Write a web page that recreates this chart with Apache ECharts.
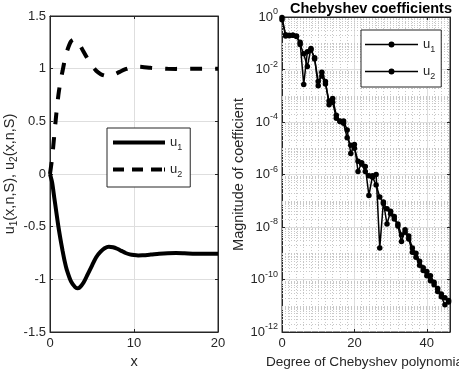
<!DOCTYPE html>
<html><head><meta charset="utf-8">
<script src="https://cdn.jsdelivr.net/npm/echarts@6/dist/echarts.min.js"></script>
<style>html,body{margin:0;padding:0;background:#fff}#c{width:459px;height:372px}</style>
</head><body><div id="c"></div>
<script>
// ---- left panel: solution curves ----
const xSol = [0,0.25,0.5,0.75,1,1.25,1.5,1.75,2,2.5,3,3.25,3.5,4,4.5,5,5.5,6,6.5,7,7.5,8,8.5,9,9.5,10,10.5,11,12,13,14,15,16,17,18,19,20];
const u1Sol = [0,-0.08,-0.22,-0.36,-0.50,-0.62,-0.73,-0.83,-0.91,-1.02,-1.075,-1.085,-1.08,-1.03,-0.95,-0.87,-0.79,-0.74,-0.705,-0.69,-0.695,-0.71,-0.73,-0.75,-0.763,-0.77,-0.773,-0.772,-0.765,-0.757,-0.752,-0.751,-0.753,-0.756,-0.757,-0.757,-0.757];
const u2Sol = [0,0.15,0.36,0.57,0.75,0.88,0.98,1.08,1.16,1.26,1.28,1.27,1.235,1.16,1.09,1.03,0.98,0.95,0.935,0.932,0.94,0.958,0.978,0.995,1.008,1.016,1.018,1.016,1.008,1.002,0.999,0.998,0.999,1.0,1.0,1.0,1.0];
const leftXTicks = [0,10,20];
const leftYTicks = [-1.5,-1,-0.5,0,0.5,1,1.5];

// ---- right panel: Chebyshev coefficient magnitudes ----
const degree = [0,1,2,3,4,5,6,7,8,9,10,11,12,13,14,15,16,17,18,19,20,21,22,23,24,25,26,27,28,29,30,31,32,33,34,35,36,37,38,39,40,41,42,43,44,45,46];
const coefU1 = [0.79,0.19,0.195,0.20,0.18,0.11,2.7e-3,4.7e-2,5.6e-2,2.8e-2,2.4e-3,7.9e-3,3.5e-3,4.5e-4,7.9e-4,1.8e-4,1.1e-4,1.1e-4,5.0e-5,6.3e-6,1.4e-5,1.3e-6,2.8e-6,2.0e-6,1.6e-7,8.9e-7,1.0e-6,1.6e-9,8.9e-8,1.3e-8,4.0e-8,2.5e-8,1.1e-8,2.8e-9,7.9e-9,3.5e-9,1.1e-9,7.1e-10,3.5e-10,2.2e-10,1.4e-10,8.9e-11,6.3e-11,4.5e-11,2.2e-11,1.1e-11,1.6e-11];
const coefU2 = [0.96,0.21,0.20,0.20,0.19,8.9e-2,4.0e-2,1.3e-2,6.3e-2,2.5e-2,3.5e-3,5.6e-3,2.8e-3,6.3e-4,5.6e-4,1.4e-4,1.05e-4,8.9e-5,2.5e-5,1.3e-5,1.0e-5,3.2e-6,2.5e-6,1.3e-6,8.9e-7,7.9e-7,4.0e-7,1.4e-7,7.9e-8,5.0e-8,3.2e-8,2.0e-8,1.3e-8,5.0e-9,6.3e-9,4.5e-9,1.6e-9,1.0e-9,5.0e-10,2.8e-10,2.0e-10,1.4e-10,7.9e-11,3.5e-11,2.8e-11,2.0e-11,1.4e-11];
const rightXTicks = [0,20,40];
const rightYExps = [-12,-10,-8,-6,-4,-2,0];
const rightXMax = 46.4;

const FONT = 'Liberation Sans, Arial, Helvetica, sans-serif';
const AX = '#262626';
const MAJ = '#dedede';
const MIN = '#c8c8c8';
const TICK_FS = 13;
const NAME_FS = 14.5;

function mkAxis(o) {
  const base = {
    type: 'value',
    axisLine: {show: true, onZero: false, lineStyle: {color: AX, width: 1}},
    axisTick: {show: true, inside: true, length: 3, lineStyle: {color: AX}},
    axisLabel: {color: AX, fontSize: TICK_FS, fontFamily: FONT},
    splitLine: {show: false},
    nameTextStyle: {color: AX, fontSize: NAME_FS, fontFamily: FONT}
  };
  return Object.assign(base, o);
}

// minor log grid (decoration only)
const minorLines = [];
for (let p = -12; p <= -1; p++) {
  for (let m = 1; m <= 9; m++) {
    if (m === 1 && p % 2 === 0) continue;
    minorLines.push({yAxis: p + Math.log10(m)});
  }
}
for (let v = 2; v < rightXMax; v += 2) {
  if (v % 20 !== 0) minorLines.push({xAxis: v});
}

const nameRich = {
  t: {fontSize: NAME_FS, fontFamily: FONT, color: AX},
  s: {fontSize: 10, fontFamily: FONT, color: AX, padding: [10, 0, 0, 0]}
};
const legRich = {
  t: {fontSize: 13, fontFamily: FONT, color: AX},
  s: {fontSize: 9, fontFamily: FONT, color: AX, padding: [10, 0, 0, 0]}
};
const dotIcon = 'path://M0 2.25H23.7V3.75H0Z M29.3 2.25H53V3.75H29.3Z M26.5 0A3 3 0 1 1 26.5 6A3 3 0 1 1 26.5 0Z';

const chart = echarts.init(document.getElementById('c'), null, {renderer: 'canvas'});
chart.setOption({
  animation: false,
  backgroundColor: '#fff',
  title: {
    text: 'Chebyshev coefficients', left: 290, top: 1,
    padding: [0, 0, 0, 0],
    textStyle: {fontSize: 14.5, fontWeight: 'bold', color: '#000', fontFamily: FONT}
  },
  grid: [
    {left: 50, top: 16, width: 168, height: 316, show: true, borderColor: AX, borderWidth: 1, backgroundColor: '#fff', containLabel: false, outerBoundsMode: 'none'},
    {left: 282, top: 17, width: 168, height: 315, show: true, borderColor: AX, borderWidth: 1, backgroundColor: '#fff', containLabel: false, outerBoundsMode: 'none'}
  ],
  xAxis: [
    mkAxis({gridIndex: 0, min: leftXTicks[0], max: leftXTicks[leftXTicks.length-1], interval: leftXTicks[1]-leftXTicks[0],
      axisLabel: {color: AX, fontSize: TICK_FS, fontFamily: FONT, margin: 5},
      splitLine: {show: true, lineStyle: {color: MAJ, width: 1}},
      name: 'x', nameLocation: 'middle', nameGap: 21}),
    mkAxis({gridIndex: 0, position: 'top', min: leftXTicks[0], max: leftXTicks[leftXTicks.length-1], interval: leftXTicks[1]-leftXTicks[0], axisLabel: {show: false}}),
    mkAxis({gridIndex: 1, min: rightXTicks[0], max: rightXMax, interval: rightXTicks[1]-rightXTicks[0],
      axisLabel: {color: AX, fontSize: TICK_FS, fontFamily: FONT, margin: 5, formatter: v => (rightXTicks.indexOf(v) >= 0 ? String(v) : '')},
      splitLine: {show: true, lineStyle: {color: MAJ, width: 1}},
      name: 'Degree of Chebyshev polynomial', nameLocation: 'middle', nameGap: 21,
      nameTextStyle: {color: AX, fontSize: 13.6, fontFamily: FONT}}),
    mkAxis({gridIndex: 1, position: 'top', min: rightXTicks[0], max: rightXMax, interval: rightXTicks[1]-rightXTicks[0], axisLabel: {show: false}})
  ],
  yAxis: [
    mkAxis({gridIndex: 0, min: leftYTicks[0], max: leftYTicks[leftYTicks.length-1], interval: leftYTicks[1]-leftYTicks[0],
      axisLabel: {color: AX, fontSize: TICK_FS, fontFamily: FONT, margin: 4},
      splitLine: {show: true, lineStyle: {color: MAJ, width: 1}},
      name: '{t|u}{s|1}{t|(x,n,S), u}{s|2}{t|(x,n,S)}', nameLocation: 'middle', nameGap: 28,
      nameTextStyle: {color: AX, fontSize: NAME_FS, fontFamily: FONT, rich: nameRich}}),
    mkAxis({gridIndex: 0, position: 'right', min: leftYTicks[0], max: leftYTicks[leftYTicks.length-1], interval: leftYTicks[1]-leftYTicks[0], axisLabel: {show: false}}),
    mkAxis({gridIndex: 1, min: rightYExps[0], max: rightYExps[rightYExps.length-1], interval: rightYExps[1]-rightYExps[0],
      axisLabel: {color: AX, fontSize: TICK_FS, fontFamily: FONT, margin: 4, formatter: v => '10{sup|' + v + '}',
        rich: {sup: {fontSize: 9, fontFamily: FONT, color: AX, padding: [0, 0, 10, 0]}}},
      splitLine: {show: true, lineStyle: {color: MAJ, width: 1}},
      name: 'Magnitude of coefficient', nameLocation: 'middle', nameGap: 34}),
    mkAxis({gridIndex: 1, position: 'right', min: rightYExps[0], max: rightYExps[rightYExps.length-1], interval: rightYExps[1]-rightYExps[0], axisLabel: {show: false}})
  ],
  legend: [
    {
      left: 107, top: 128, orient: 'vertical', backgroundColor: '#fff', borderColor: AX, borderWidth: 1, z: 10,
      padding: [8, 8, 8, 6], itemWidth: 52, itemHeight: 4, itemGap: 11,
      itemStyle: {color: '#000', borderWidth: 0},
      data: [
        {name: 'u1', icon: 'path://M0 0H52V4H0Z'},
        {name: 'u2', icon: 'path://M0 0H11V4H0Z M19 0H30V4H19Z M38 0H49V4H38Z M51 0H52V4H51Z'}
      ],
      formatter: n => '{t|u}{s|' + n.slice(1) + '}',
      textStyle: {color: AX, fontSize: 13, fontFamily: FONT, rich: legRich}
    },
    {
      left: 361, top: 30, orient: 'vertical', backgroundColor: '#fff', borderColor: AX, borderWidth: 1, z: 10,
      padding: [8, 6, 6, 4], itemWidth: 53, itemHeight: 6, itemGap: 11,
      itemStyle: {color: '#000', borderColor: '#000', borderWidth: 0, opacity: 1},
      data: [
        {name: 'c1', icon: dotIcon},
        {name: 'c2', icon: dotIcon}
      ],
      formatter: n => '{t|u}{s|' + n.slice(1) + '}',
      textStyle: {color: AX, fontSize: 13, fontFamily: FONT, rich: legRich}
    }
  ],
  series: [
    {name: 'grid', type: 'line', xAxisIndex: 2, yAxisIndex: 2, data: [], z: 1, silent: true,
      markLine: {silent: true, z: 1, symbol: ['none', 'none'], label: {show: false}, animation: false,
        lineStyle: {color: MIN, type: [1, 2], width: 1}, data: minorLines}},
    {name: 'u1', type: 'line', xAxisIndex: 0, yAxisIndex: 0, smooth: 0.3, symbol: 'none',
      data: xSol.map((x, i) => [x, u1Sol[i]]), lineStyle: {color: '#000', width: 4}, itemStyle: {color: '#000'}, z: 3},
    {name: 'u2', type: 'line', xAxisIndex: 0, yAxisIndex: 0, smooth: 0.3, symbol: 'none',
      data: xSol.map((x, i) => [x, u2Sol[i]]), lineStyle: {color: '#000', width: 4, type: [12, 13], cap: 'butt'}, itemStyle: {color: '#000'}, z: 3},
    {name: 'c1', type: 'line', xAxisIndex: 2, yAxisIndex: 2, symbol: 'circle', symbolSize: 5.5, showSymbol: true,
      data: degree.map((n, i) => [n, Math.log10(coefU1[i])]), lineStyle: {color: '#000', width: 1.5},
      itemStyle: {color: '#000', borderColor: '#000', borderWidth: 0}, z: 3},
    {name: 'c2', type: 'line', xAxisIndex: 2, yAxisIndex: 2, symbol: 'circle', symbolSize: 5.5, showSymbol: true,
      data: degree.map((n, i) => [n, Math.log10(coefU2[i])]), lineStyle: {color: '#000', width: 1.5},
      itemStyle: {color: '#000', borderColor: '#000', borderWidth: 0}, z: 3}
  ]
});
</script>
</body></html>
